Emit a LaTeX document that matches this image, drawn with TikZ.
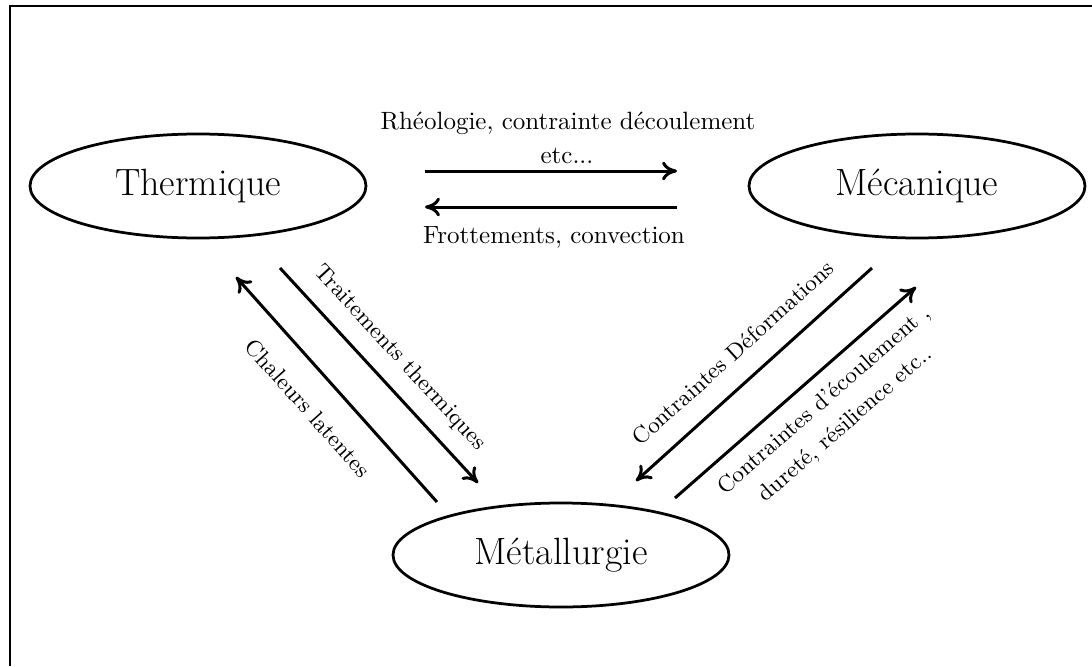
\documentclass[tikz,border=0pt]{standalone}
\usetikzlibrary{arrows.meta,shapes.geometric}
\begin{document}
\begin{tikzpicture}[x=0.4pt,y=-0.4pt,
  fieldbox/.style={ellipse,draw,line width=1.1pt,minimum width=134.4pt,minimum height=41.6pt,inner sep=0pt,font=\fontsize{15.2}{18}\selectfont},
  arr/.style={line width=1.2pt,-{To[length=6pt,width=7.5pt]}},
  lbl/.style={inner sep=0pt,font=\fontsize{10}{12}\selectfont,align=center},
  slbl/.style={inner sep=0pt,font=\fontsize{9.1}{11}\selectfont,align=center}]
\useasboundingbox (0,0) rectangle (1092,666);
\draw[line width=1pt] (1092,6) -- (10,6) -- (10,666);
% domains
\node[fieldbox] (th) at (198,186) {Thermique};
\node[fieldbox] (me) at (917,186) {Mécanique};
\node[fieldbox] (mt) at (561,555) {Métallurgie};
% arrow end points
\coordinate (a1s) at (425,171); \coordinate (a1e) at (677,171);
\coordinate (a2s) at (677,207); \coordinate (a2e) at (425,207);
\coordinate (a3s) at (437,502); \coordinate (a3e) at (236,277);
\coordinate (a4s) at (280,268); \coordinate (a4e) at (478,483);
\coordinate (a5s) at (872,268); \coordinate (a5e) at (636,481);
\coordinate (a6s) at (675,498); \coordinate (a6e) at (916,287);
\draw[arr] (a1s) -- (a1e);
\draw[arr] (a2s) -- (a2e);
\draw[arr] (a3s) -- (a3e);
\draw[arr] (a4s) -- (a4e);
\draw[arr] (a5s) -- (a5e);
\draw[arr] (a6s) -- (a6e);
% labels
\node[lbl] (l1) at (568,123) {Rhéologie, contrainte découlement};
\node[lbl] (l1b) at (567,156) {etc...};
\node[lbl] (l2) at (554,237) {Frottements, convection};
\node[slbl,rotate=-48.2] (l3) at (308,408) {Chaleurs latentes};
\node[slbl,rotate=-47.4] (l4) at (400,358) {Traitements thermiques};
\node[slbl,rotate=42.1] (l5) at (733,353) {Contraintes Déformations};
\node[slbl,rotate=41.2] (l6) at (835,413) {Contraintes d'écoulement ,\\[2pt]dureté, résilience etc..};
\end{tikzpicture}
\end{document}
